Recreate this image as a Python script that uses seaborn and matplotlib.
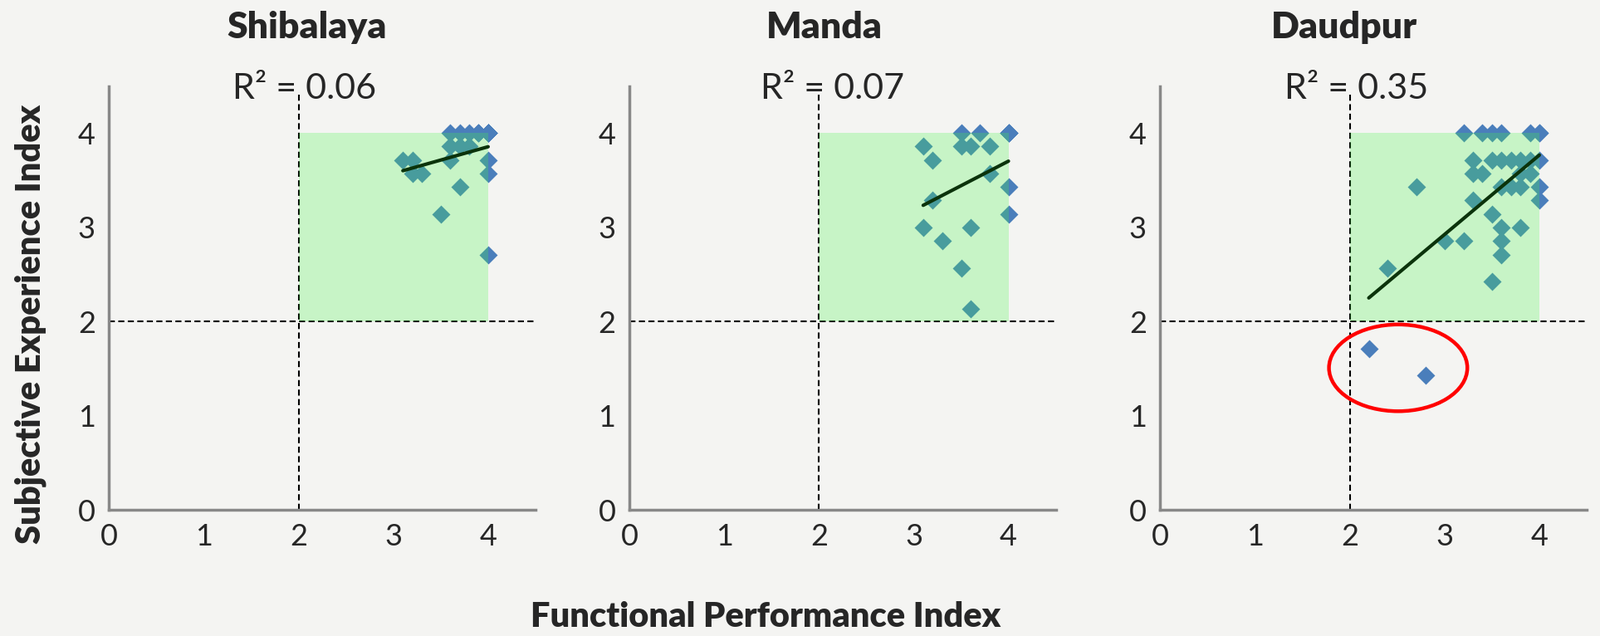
import matplotlib
matplotlib.use("Agg")
import matplotlib.pyplot as plt
from matplotlib.patches import Rectangle, Ellipse
import seaborn as sns
import pandas as pd

# village names and R2 labels
sites = ["Shibalaya", "Manda", "Daudpur"]
r2_labels = ["R\u00b2 = 0.06", "R\u00b2 = 0.07", "R\u00b2 = 0.35"]

# functional performance (x) / subjective experience (y) per village
# (repeated points sit on top of each other in the picture)
shib_x = [3.6, 3.7, 3.8, 3.9, 4.0, 4.0, 4.0, 4.0, 4.0, 4.0, 4.0, 3.9, 3.9,
          3.6, 3.7, 3.8, 3.1, 3.2, 3.6, 4.0, 3.2, 3.3, 4.0, 3.7, 3.5, 4.0]
shib_y = [4.0, 4.0, 4.0, 4.0, 4.0, 4.0, 4.0, 4.0, 4.0, 4.0, 4.0, 4.0, 4.0,
          3.86, 3.86, 3.86, 3.71, 3.71, 3.71, 3.71, 3.57, 3.57, 3.57, 3.43, 3.14, 2.71]

manda_x = [3.5, 3.7, 4.0, 4.0, 4.0, 4.0, 3.1, 3.5, 3.6, 3.8, 3.2, 3.8, 4.0,
           3.2, 4.0, 3.1, 3.6, 3.3, 3.5, 3.6]
manda_y = [4.0, 4.0, 4.0, 4.0, 4.0, 4.0, 3.86, 3.86, 3.86, 3.86, 3.71, 3.57, 3.43,
           3.29, 3.14, 3.0, 3.0, 2.86, 2.57, 2.14]

daud_x = [3.2, 3.4, 3.5, 3.6, 3.9, 4.0, 4.0,
          3.3, 3.5, 3.6, 3.7, 3.8, 3.9, 4.0,
          3.3, 3.4, 3.8, 3.9,
          2.7, 3.6, 3.7, 3.8, 4.0,
          3.3, 4.0, 3.5, 3.6, 3.8, 3.0, 3.2, 3.6, 3.6, 2.4, 3.5, 2.2, 2.8]
daud_y = [4.0, 4.0, 4.0, 4.0, 4.0, 4.0, 4.0,
          3.71, 3.71, 3.71, 3.71, 3.71, 3.71, 3.71,
          3.57, 3.57, 3.57, 3.57,
          3.43, 3.43, 3.43, 3.43, 3.43,
          3.29, 3.29, 3.14, 3.0, 3.0, 2.86, 2.86, 2.86, 2.71, 2.57, 2.43, 1.71, 1.43]

xs = [shib_x, manda_x, daud_x]
ys = [shib_y, manda_y, daud_y]

ticks = [0, 1, 2, 3, 4]

bg = "#f4f4f2"
sns.set_style("white")
plt.rcParams["font.family"] = ["Lato", "DejaVu Sans"]

fig = plt.figure(figsize=(19.27, 7.66), dpi=100, facecolor=bg)

lefts = [0.0682, 0.3934, 0.7252]
title_x = [0.463, 0.458, 0.432]
r2_x = [2.06, 2.14, 2.07]

for i in range(3):
    ax = fig.add_axes([lefts[i], 0.1978, 0.2665, 0.667])
    ax.set_facecolor(bg)
    df = pd.DataFrame({"x": xs[i], "y": ys[i]})

    sns.scatterplot(data=df, x="x", y="y", marker="D", s=125, color="#4a7ebb",
                    linewidth=0, ax=ax, zorder=2)
    ax.add_patch(Rectangle((2, 2), 2, 2, color="#44f744", alpha=0.25,
                           linewidth=0, zorder=3))
    sns.regplot(data=df, x="x", y="y", scatter=False, ci=None, truncate=True,
                line_kws={"color": "#0b330b", "lw": 3, "zorder": 4}, ax=ax)

    ax.axhline(2, color="black", lw=1.5, ls=(0, (3.5, 2)), zorder=1)
    ax.axvline(2, ymax=0.982, color="black", lw=1.5, ls=(0, (3.5, 2)), zorder=1)

    ax.set_xlim(0, 4.5)
    ax.set_ylim(0, 4.5)
    ax.set_xticks(ticks)
    ax.set_yticks(ticks)
    ax.set_xlabel("")
    ax.set_ylabel("")
    sns.despine(ax=ax)
    for sp in ["left", "bottom"]:
        ax.spines[sp].set_color("#888888")
        ax.spines[sp].set_linewidth(2.5)
    ax.tick_params(axis="both", length=7, width=2.5, color="#888888",
                   labelsize=26, direction="out")
    ax.tick_params(axis="x", pad=4)
    ax.tick_params(axis="y", pad=5)

    ax.text(r2_x[i], 4.47, r2_labels[i], fontsize=31, ha="center", va="center")
    ax.text(title_x[i], 1.138, sites[i], transform=ax.transAxes, fontsize=32,
            fontweight="heavy", ha="center", va="center")

    if i == 2:
        ax.add_patch(Ellipse((2.51, 1.51), 1.46, 0.92, fill=False,
                             edgecolor="#ff0000", lw=3.2, zorder=5, clip_on=False))

fig.text(0.4785, 0.03, "Functional Performance Index", fontsize=30,
         fontweight="heavy", ha="center", va="center")
fig.text(0.019, 0.491, "Subjective Experience Index", fontsize=30,
         fontweight="heavy", ha="center", va="center", rotation=90)

fig.savefig("out.png", dpi=100, facecolor=bg)
